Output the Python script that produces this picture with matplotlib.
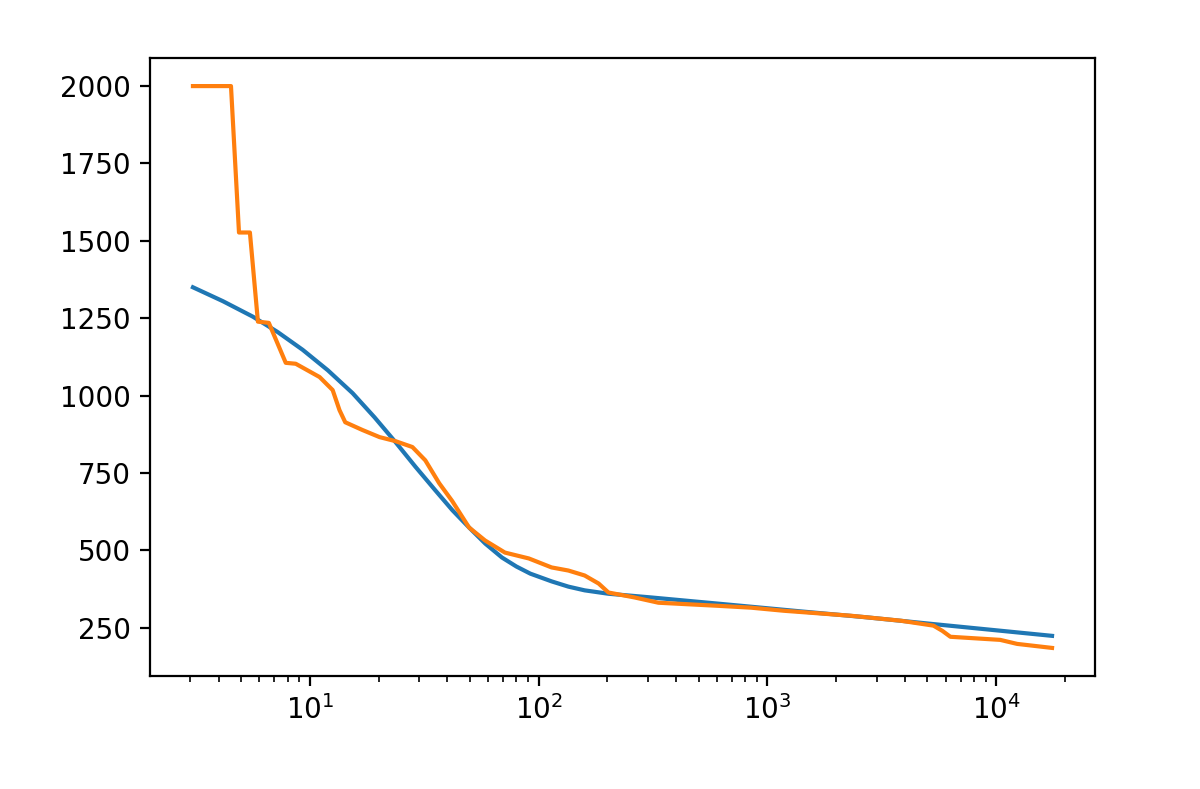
import numpy as np
import matplotlib
matplotlib.use("Agg")
import matplotlib.pyplot as plt

# fitted curve (blue)
fit_x = [3.09, 4.18, 5.65, 7.26, 9.32, 12.0, 15.4, 19.2, 23.7, 29.0, 35.4, 42.0, 49.7,
         58.5, 69.2, 80.0, 92.0, 114, 135, 159, 202, 260, 311, 610, 1400, 2700, 5315, 17520]
fit_y = [1350, 1305, 1255, 1205, 1148, 1082, 1008, 930, 850, 770, 694, 630, 574,
         522, 477, 448, 425, 400, 383, 371, 360, 353, 348, 328, 303, 284, 262, 224]

# measured curve (orange)
meas_x = [3.09, 4.53, 4.91, 5.48, 5.94, 6.63, 7.86, 8.69, 11.05, 12.6, 13.5, 14.3, 17.0,
          20.2, 23.7, 28.1, 32.0, 36.8, 41.9, 49.7, 58.4, 71.3, 90.7, 114, 135, 159,
          183, 202, 263, 334, 610, 849, 1181, 2312, 3816, 5315, 5815, 6300, 10400,
          12330, 17520]
meas_y = [2000, 2000, 1527, 1527, 1239, 1235, 1106, 1103, 1060, 1018, 953, 914, 889,
          866, 853, 834, 791, 717, 660, 574, 532, 493, 474, 445, 435, 419,
          393, 364, 348, 331, 321, 315, 305, 289, 273, 257, 240, 221, 211,
          198, 185]

fig = plt.figure(figsize=(6, 3.945), dpi=200)
ax = fig.add_axes([0.125, 0.1432, 0.7875, 0.7833])
ax.plot(fit_x, fit_y)
ax.plot(meas_x, meas_y)
ax.set_xscale("log")
fig.savefig("out.png", dpi=200)
